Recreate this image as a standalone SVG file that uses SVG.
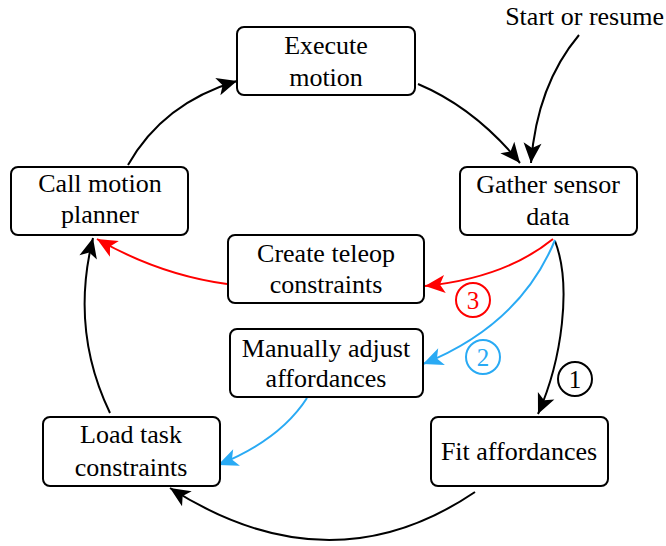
<svg xmlns="http://www.w3.org/2000/svg" width="666" height="546" viewBox="0 0 666 546">
<style>
.box{fill:#fff;stroke:#000;stroke-width:2}
.t{font-family:"Liberation Serif",serif;font-size:26px;text-anchor:middle;fill:#000}
.c{fill:none;stroke-width:2}
.k{stroke:#000}
.r{stroke:#f00}
.b{stroke:#29aaf4}
.num{font-family:"Liberation Serif",serif;font-size:25px;text-anchor:middle}
</style>
<defs>
<marker id="ak" markerUnits="userSpaceOnUse" markerWidth="26" markerHeight="26" viewBox="-22 -12 26 24" refX="0" refY="0" orient="auto"><path d="M0,0 L-20,-9 L-15,0 L-20,9 z" fill="#000"/></marker>
<marker id="ar" markerUnits="userSpaceOnUse" markerWidth="26" markerHeight="26" viewBox="-22 -12 26 24" refX="0" refY="0" orient="auto"><path d="M0,0 L-20,-9 L-15,0 L-20,9 z" fill="#f00"/></marker>
<marker id="ab" markerUnits="userSpaceOnUse" markerWidth="26" markerHeight="26" viewBox="-22 -12 26 24" refX="0" refY="0" orient="auto"><path d="M0,0 L-20,-9 L-15,0 L-20,9 z" fill="#29aaf4"/></marker>
</defs>
<g id="connectors">
<path class="c k" d="M418,84 Q475,108 520,163" marker-end="url(#ak)"/>
<path class="c k" d="M579,35 Q537,85 531,163" marker-end="url(#ak)"/>
<path class="c k" d="M555,241 C572,285 562,360 538,414" marker-end="url(#ak)"/>
<path class="c r" d="M553,239 Q505,278 425,286" marker-end="url(#ar)"/>
<path class="c b" d="M555,240 Q520,325 423,364" marker-end="url(#ab)"/>
<path class="c r" d="M227,284 Q160,275 97,239" marker-end="url(#ar)"/>
<path class="c b" d="M307,398 Q280,440 218,465" marker-end="url(#ab)"/>
<path class="c k" d="M475,492 Q330,590 170,488" marker-end="url(#ak)"/>
<path class="c k" d="M110,413 Q70,330 93,238" marker-end="url(#ak)"/>
<path class="c k" d="M128,165 Q163,103 237,81" marker-end="url(#ak)"/>
</g>
<g id="labels">
<text class="t" x="664" y="25" style="text-anchor:end">Start or resume</text>
<g id="n1"><circle cx="575" cy="379" r="17" fill="none" stroke="#000" stroke-width="2"/><text class="num" x="575" y="388" fill="#000">1</text></g>
<g id="n2"><circle cx="483" cy="357" r="17" fill="none" stroke="#29aaf4" stroke-width="2"/><text class="num" x="483" y="366" fill="#29aaf4">2</text></g>
<g id="n3"><circle cx="473" cy="300" r="17" fill="none" stroke="#f00" stroke-width="2"/><text class="num" x="473" y="309" fill="#f00">3</text></g>
</g>
<g id="execute"><rect class="box" x="237" y="27" width="178" height="68" rx="7"/><text class="t" x="326" y="54">Execute</text><text class="t" x="326" y="86">motion</text></g>
<g id="gather"><rect class="box" x="460" y="167" width="177" height="68" rx="7"/><text class="t" x="548" y="193">Gather sensor</text><text class="t" x="548" y="225">data</text></g>
<g id="call"><rect class="box" x="11" y="167" width="177" height="68" rx="7"/><text class="t" x="100" y="192">Call motion</text><text class="t" x="100" y="223">planner</text></g>
<g id="teleop"><rect class="box" x="228" y="235" width="196" height="68" rx="7"/><text class="t" x="326" y="262">Create teleop</text><text class="t" x="326" y="293">constraints</text></g>
<g id="manual"><rect class="box" x="230" y="329" width="193" height="68" rx="7"/><text class="t" x="326" y="357">Manually adjust</text><text class="t" x="326" y="387">affordances</text></g>
<g id="fit"><rect class="box" x="431" y="417" width="177" height="69" rx="7"/><text class="t" x="519" y="460">Fit affordances</text></g>
<g id="load"><rect class="box" x="43" y="417" width="177" height="69" rx="7"/><text class="t" x="131" y="443">Load task</text><text class="t" x="131" y="476">constraints</text></g>
</svg>
